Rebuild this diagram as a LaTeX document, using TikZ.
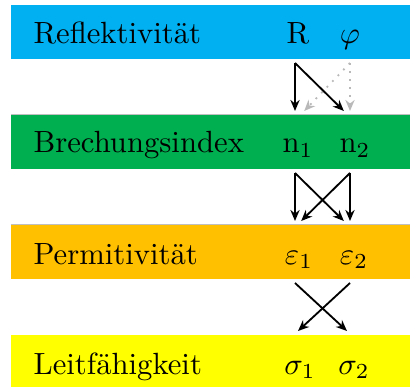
\documentclass[tikz,border=0pt]{standalone}
\usetikzlibrary{arrows.meta}
\definecolor{bandblue}{RGB}{0,176,240}
\definecolor{bandgreen}{RGB}{0,176,80}
\definecolor{bandorange}{RGB}{255,192,0}
\definecolor{bandyellow}{RGB}{255,255,0}
\tikzset{
  lbl/.style={anchor=base west, inner sep=0pt},
  sym/.style={anchor=base, inner sep=0pt},
  arr/.style={-{Stealth[length=3.6pt,width=3pt]}, line width=0.6pt, black},
  ghost/.style={-{Stealth[length=3.6pt,width=3pt]}, line width=0.6pt, gray!55, dotted}
}
\begin{document}
\begin{tikzpicture}[x=0.326pt,y=-0.326pt]
\useasboundingbox (0,0) rectangle (410,387);
% bands
\fill[bandblue] (11,5) rectangle (410,59.5);
\fill[bandgreen] (11,114.5) rectangle (410,169);
\fill[bandorange] (11,224.5) rectangle (410,279);
\fill[bandyellow] (11,334.5) rectangle (410,387);
\draw[gray!50, line width=0.3pt] (11,114.5) -- (410,114.5);
\draw[gray!50, line width=0.3pt] (11,224.5) -- (410,224.5);
% labels
\node[lbl] (l1) at (33,44) {Reflektivität};
\node[lbl] (l2) at (33,153) {Brechungsindex};
\node[lbl] (l3) at (33,264) {Permitivität};
\node[lbl] (l4) at (33,374) {Leitfähigkeit};
% symbols
\node[sym] (R) at (298,44) {R};
\node[sym] (phi) at (350,44) {$\varphi$};
\node[sym] (n1) at (298,153) {n$_1$};
\node[sym] (n2) at (355,153) {n$_2$};
\node[sym] (e1) at (299,264) {$\varepsilon_1$};
\node[sym] (e2) at (354,264) {$\varepsilon_2$};
\node[sym] (s1) at (300,374) {$\sigma_1$};
\node[sym] (s2) at (354,374) {$\sigma_2$};
% connector endpoints
\coordinate (a1) at (295,63);  \coordinate (a2) at (350,63);
\coordinate (b1) at (295,111); \coordinate (b2) at (350,111);
\coordinate (c1) at (295,173); \coordinate (c2) at (350,173);
\coordinate (d1) at (295,221); \coordinate (d2) at (350,221);
\coordinate (f1) at (295,283); \coordinate (f2) at (350,283);
\coordinate (g1) at (298,331); \coordinate (g2) at (347,331);
% arrows
\draw[ghost] (a2) -- (b2);
\draw[ghost] (a2) -- ([xshift=3]b1);
\draw[arr] (a1) -- (b1);
\draw[arr] (a1) -- ([xshift=-2]b2);
\draw[arr] (c1) -- (d1);
\draw[arr] (c2) -- (d2);
\draw[arr] (c1) -- ([xshift=-2]d2);
\draw[arr] (c2) -- ([xshift=2]d1);
\draw[arr] (f1) -- (g2);
\draw[arr] (f2) -- (g1);
\end{tikzpicture}
\end{document}
